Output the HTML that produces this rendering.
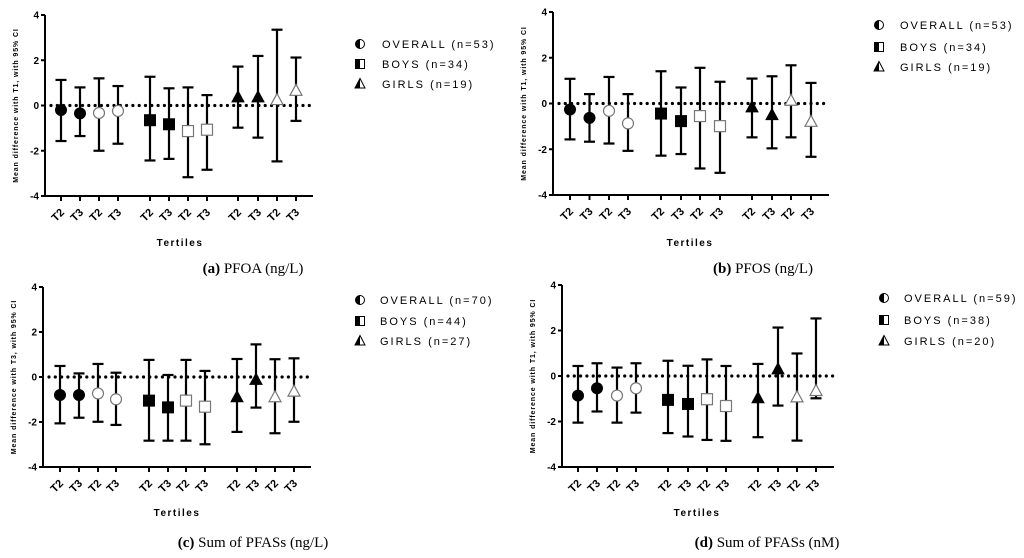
<!DOCTYPE html>
<html><head><meta charset="utf-8"><style>
html,body{margin:0;padding:0;background:#fff;width:1024px;height:558px;overflow:hidden}
svg{display:block}
text{font-family:"Liberation Sans",sans-serif}
.cap{font-family:"Liberation Serif",serif;font-size:15px}
</style></head><body>
<svg id="fig" width="1024" height="558" viewBox="0 0 1024 558"></svg>
<script>
const categories = ["T2","T3","T2","T3","T2","T3","T2","T3","T2","T3","T2","T3"];
const groups = ["overall","overall","overall","overall","boys","boys","boys","boys","girls","girls","girls","girls"];
const filled = [1,1,0,0,1,1,0,0,1,1,0,0];
const yTicks = [4,2,0,-2,-4];
const aMean = [-0.2,-0.35,-0.33,-0.24,-0.65,-0.83,-1.13,-1.07,0.36,0.36,0.24,0.65];
const aLo = [-1.57,-1.35,-2.0,-1.69,-2.43,-2.36,-3.17,-2.84,-0.98,-1.42,-2.47,-0.68];
const aHi = [1.13,0.8,1.2,0.86,1.27,0.76,0.8,0.46,1.72,2.19,3.35,2.12];
const bMean = [-0.26,-0.63,-0.32,-0.87,-0.44,-0.77,-0.55,-0.99,-0.17,-0.51,0.12,-0.8];
const bLo = [-1.57,-1.67,-1.75,-2.07,-2.28,-2.21,-2.84,-3.03,-1.48,-1.96,-1.48,-2.33];
const bHi = [1.08,0.41,1.16,0.41,1.41,0.7,1.56,0.95,1.09,1.19,1.67,0.9];
const cMean = [-0.8,-0.8,-0.73,-0.99,-1.05,-1.35,-1.05,-1.32,-0.9,-0.13,-0.9,-0.65];
const cLo = [-2.06,-1.81,-1.99,-2.13,-2.83,-2.83,-2.83,-2.99,-2.44,-1.36,-2.5,-1.99];
const cHi = [0.49,0.16,0.58,0.19,0.76,0.09,0.76,0.27,0.8,1.45,0.79,0.83];
const dMean = [-0.86,-0.54,-0.86,-0.54,-1.05,-1.23,-1.02,-1.32,-0.98,0.29,-0.94,-0.66];
const dLo = [-2.05,-1.56,-2.05,-1.61,-2.51,-2.66,-2.81,-2.85,-2.69,-1.3,-2.84,-0.98];
const dHi = [0.44,0.56,0.37,0.56,0.67,0.45,0.73,0.44,0.53,2.13,0.99,2.53];
const aLegend = ["OVERALL (n=53)","BOYS (n=34)","GIRLS (n=19)"];
const bLegend = ["OVERALL (n=53)","BOYS (n=34)","GIRLS (n=19)"];
const cLegend = ["OVERALL (n=70)","BOYS (n=44)","GIRLS (n=27)"];
const dLegend = ["OVERALL (n=59)","BOYS (n=38)","GIRLS (n=20)"];

const NS="http://www.w3.org/2000/svg";
const svg=document.getElementById('fig');
function el(tag,attrs,parent){const e=document.createElementNS(NS,tag);for(const k in attrs)e.setAttribute(k,attrs[k]);(parent||svg).appendChild(e);return e;}

const panels=[
 {id:'a',mean:aMean,lo:aLo,hi:aHi,leg:aLegend,ax:45,x1:313,yTop:15,yBot:196,xf:61,xs:[0,19,38,57,89,108,127,146,177,197,216,235],lx:360,ltx:382,ly:[44,64,84],ylab:"Mean difference with T1, with 95% CI",tx:180,ty:246,cap:"PFOA (ng/L)",capx:253,capy:273},
 {id:'b',mean:bMean,lo:bLo,hi:bHi,leg:bLegend,ax:553,x1:829,yTop:12,yBot:195,xf:570,xs:[0,19.5,39,58,91,111,130,150,182,202,221,241],lx:879,ltx:900,ly:[25,47,67],ylab:"Mean difference with T1, with 95% CI",tx:690,ty:246,cap:"PFOS (ng/L)",capx:763,capy:273},
 {id:'c',mean:cMean,lo:cLo,hi:cHi,leg:cLegend,ax:43,x1:311,yTop:287,yBot:467,xf:60,xs:[0,19,38,56,89,108,126,145,177,196,215,234],lx:360,ltx:380,ly:[300,321,341],ylab:"Mean difference with T3, with 95% CI",tx:177,ty:516,cap:"Sum of PFASs (ng/L)",capx:253,capy:547},
 {id:'d',mean:dMean,lo:dLo,hi:dHi,leg:dLegend,ax:562,x1:834,yTop:285,yBot:467,xf:578,xs:[0,19,39,58,90,110,129,148,180,200,219,238],lx:884,ltx:904,ly:[298,320,341],ylab:"Mean difference with T1, with 95% CI",tx:697,ty:516,cap:"Sum of PFASs (nM)",capx:767,capy:547}
];

function marker(g,type,fill,cx,cy,parent,name){
  const col=fill?'#000':'#777', f=fill?'#000':'none', sw=fill?1:1.2;
  let m;
  if(type==='overall') m=el('circle',{cx:cx,cy:cy,r:5.5,fill:f,stroke:col,'stroke-width':sw},parent);
  else if(type==='boys') m=el('rect',{x:cx-5.5,y:cy-5.5,width:11,height:11,fill:f,stroke:col,'stroke-width':sw},parent);
  else m=el('polygon',{points:`${cx},${cy-6.5} ${cx-6},${cy+4.5} ${cx+6},${cy+4.5}`,fill:f,stroke:col,'stroke-width':sw},parent);
  
  
  return m;
}

panels.forEach(p=>{
  const g=el('g',{});
  
  
  const y=v=>p.yTop+(4-v)*(p.yBot-p.yTop)/8;
  const x=i=>p.xf+p.xs[i];
  const z=el('line',{x1:p.ax+6,x2:p.x1,y1:y(0),y2:y(0),stroke:'#000','stroke-width':3.2,'stroke-linecap':'round','stroke-dasharray':'0 6.3'},g);
  
  
  const ya=el('line',{x1:p.ax,x2:p.ax,y1:p.yTop,y2:p.yBot+1,stroke:'#000','stroke-width':2},g);
  
  
  const xa=el('line',{x1:p.ax-1,x2:p.x1,y1:p.yBot,y2:p.yBot,stroke:'#000','stroke-width':2},g);
  
  
  yTicks.forEach(t=>{
    el('line',{x1:p.ax-4,x2:p.ax,y1:y(t),y2:y(t),stroke:'#000','stroke-width':2},g);
    const tl=el('text',{x:p.ax-6,y:y(t)+3.5,'text-anchor':'end','font-size':10,'font-weight':'bold'},g);
    tl.textContent=t;
    
    
  });
  const yl=el('text',{x:0,y:0,transform:`translate(${p.ax-27},${(p.yTop+p.yBot)/2}) rotate(-90)`,'text-anchor':'middle','font-size':7,'font-weight':'bold','letter-spacing':'0.9'},g);
  yl.textContent=p.ylab;
  
  
  categories.forEach((c,i)=>{
    const cx=x(i);
    el('line',{x1:cx,x2:cx,y1:p.yBot,y2:p.yBot+5,stroke:'#000','stroke-width':2},g);
    const t=el('text',{x:0,y:0,transform:`translate(${cx+4},${p.yBot+17}) rotate(-45)`,'text-anchor':'end','font-size':11,'font-weight':'bold'},g);
    t.textContent=c;
    
    
    const eb=el('g',{},g);
    
    
    el('line',{x1:cx,x2:cx,y1:y(p.hi[i]),y2:y(p.lo[i]),stroke:'#000','stroke-width':2.2},eb);
    el('line',{x1:cx-5.5,x2:cx+5.5,y1:y(p.hi[i]),y2:y(p.hi[i]),stroke:'#000','stroke-width':2.2},eb);
    el('line',{x1:cx-5.5,x2:cx+5.5,y1:y(p.lo[i]),y2:y(p.lo[i]),stroke:'#000','stroke-width':2.2},eb);
    if(!filled[i]){
      const bg=marker(g,groups[i],0,cx,y(p.mean[i]),g,'marker-bg');
      bg.setAttribute('fill','#fff');bg.setAttribute('stroke','none');
    }
    marker(g,groups[i],filled[i],cx,y(p.mean[i]),g,'point-'+groups[i]);
  });
  const tt=el('text',{x:p.tx,y:p.ty,'text-anchor':'middle','font-size':10,'font-weight':'bold','letter-spacing':'1.5'},g);
  tt.textContent='Tertiles';
  
  
  const types=['overall','boys','girls'];
  types.forEach((ty,k)=>{
    const cy=p.ly[k];
    const lg=el('g',{},g);
    
    
    if(ty==='overall'){
      el('circle',{cx:p.lx,cy:cy,r:4.5,fill:'#fff',stroke:'#000','stroke-width':1},lg);
      el('path',{d:`M${p.lx},${cy-4.5} A4.5,4.5 0 0 0 ${p.lx},${cy+4.5} Z`,fill:'#000'},lg);
    }else if(ty==='boys'){
      el('rect',{x:p.lx-4.5,y:cy-4.5,width:9,height:9,fill:'#fff',stroke:'#000','stroke-width':1},lg);
      el('rect',{x:p.lx-4.5,y:cy-4.5,width:4.5,height:9,fill:'#000'},lg);
    }else{
      el('polygon',{points:`${p.lx},${cy-5.5} ${p.lx-5},${cy+4} ${p.lx+5},${cy+4}`,fill:'#fff',stroke:'#000','stroke-width':1},lg);
      el('polygon',{points:`${p.lx},${cy-5.5} ${p.lx-5},${cy+4} ${p.lx},${cy+4}`,fill:'#000'},lg);
    }
    const lt=el('text',{x:p.ltx,y:cy+4,'font-size':11,'letter-spacing':'2'},lg);
    lt.textContent=p.leg[k];
  });
  const cap=el('text',{x:p.capx,y:p.capy,'text-anchor':'middle',class:'cap'},g);
  
  
  const b=el('tspan',{'font-weight':'bold'},cap);b.textContent='('+p.id+')';
  const r=el('tspan',{},cap);r.textContent=' '+p.cap;
});
</script>
</body></html>
